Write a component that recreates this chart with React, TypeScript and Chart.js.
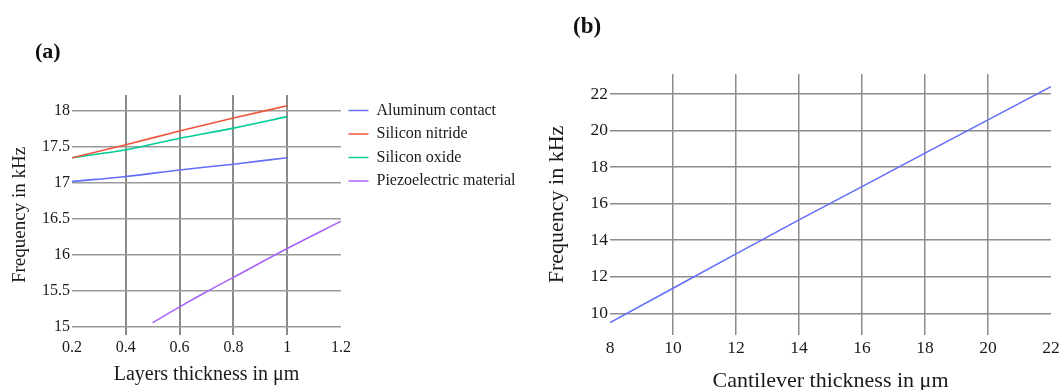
import React, { useEffect, useRef } from "react";
import { Chart, registerables } from "chart.js";

Chart.register(...registerables);

// ---------- Data: panel (a) ----------
const xTicksA = [0.2, 0.4, 0.6, 0.8, 1, 1.2];
const xTickLabelsA = ["0.2", "0.4", "0.6", "0.8", "1", "1.2"];
const yTicksA = [15, 15.5, 16, 16.5, 17, 17.5, 18];
const yTickLabelsA = ["15", "15.5", "16", "16.5", "17", "17.5", "18"];

const layerThickness = [0.2, 0.4, 0.6, 0.8, 1];
const aluminumContact = [17.02, 17.09, 17.18, 17.26, 17.35];
const siliconNitride = [17.35, 17.53, 17.72, 17.9, 18.07];
const siliconOxide = [17.35, 17.46, 17.62, 17.76, 17.92];
const piezoThickness = [0.5, 0.6, 0.7, 0.8, 1, 1.2];
const piezoMaterial = [15.06, 15.28, 15.49, 15.69, 16.09, 16.47];

const seriesNamesA = [
  "Aluminum contact",
  "Silicon nitride",
  "Silicon oxide",
  "Piezoelectric material",
];
const seriesColorsA = ["#636EFA", "#EF553B", "#00CC96", "#AB63FA"];

// ---------- Data: panel (b) ----------
const xTicksB = [8, 10, 12, 14, 16, 18, 20, 22];
const xTickLabelsB = ["8", "10", "12", "14", "16", "18", "20", "22"];
const yTicksB = [10, 12, 14, 16, 18, 20, 22];
const yTickLabelsB = ["10", "12", "14", "16", "18", "20", "22"];

const cantileverThickness = [8, 10, 12, 14, 16, 18, 20, 22];
const cantileverFrequency = [9.49, 11.37, 13.25, 15.11, 16.93, 18.76, 20.58, 22.4];

const FONT = "'Liberation Serif', 'Times New Roman', serif";
const TEXT = "#1a1a1a";

const pts = (xs: number[], ys: number[]) => xs.map((x, i) => ({ x, y: ys[i] }));

const fixLegendWidth = (w: number) => ({
  id: "fixLegendWidth",
  beforeInit(chart: any) {
    const lg = chart.legend;
    if (!lg) return;
    const orig = lg.fit.bind(lg);
    lg.fit = function () {
      orig();
      this.width = w;
    };
  },
});

function PanelA() {
  const ref = useRef<HTMLCanvasElement | null>(null);
  useEffect(() => {
    if (!ref.current) return;
    const seriesX = [layerThickness, layerThickness, layerThickness, piezoThickness];
    const seriesY = [aluminumContact, siliconNitride, siliconOxide, piezoMaterial];
    const chart = new Chart(ref.current, {
      type: "line",
      data: {
        datasets: seriesNamesA.map((name, i) => ({
          label: name,
          data: pts(seriesX[i], seriesY[i]),
          borderColor: seriesColorsA[i],
          backgroundColor: seriesColorsA[i],
          borderWidth: 1.6,
          pointRadius: 0,
          tension: 0.3,
          cubicInterpolationMode: "monotone" as const,
        })),
      },
      options: {
        responsive: false,
        animation: false,
        layout: { padding: { top: 95, left: 0, right: 0, bottom: 0 } },
        plugins: {
          tooltip: { enabled: false },
          legend: {
            position: "right",
            align: "start",
            labels: {
              font: { family: FONT, size: 16 },
              color: TEXT,
              boxWidth: 20,
              boxHeight: 0,
              padding: 7.5,
            },
          },
        },
        scales: {
          x: {
            type: "linear",
            min: 0.2,
            max: 1.2,
            afterBuildTicks: (s: any) => {
              s.ticks = xTicksA.map((v) => ({ value: v }));
            },
            afterFit: (s: any) => {
              s.height = 55;
            },
            ticks: {
              font: { family: FONT, size: 16 },
              color: TEXT,
              padding: 3,
              maxRotation: 0,
              callback: (_v: any, i: number) => xTickLabelsA[i],
            },
            grid: {
              drawTicks: false,
              lineWidth: 2,
              color: (c: any) =>
                c.index === 0 || c.index === xTicksA.length - 1 ? "rgba(0,0,0,0)" : "#8a8a8a",
            },
            border: { display: false },
            title: {
              display: true,
              text: "Layers thickness in μm",
              font: { family: FONT, size: 20 },
              color: TEXT,
              padding: { top: 0, bottom: 3 },
            },
          },
          y: {
            type: "linear",
            min: 14.89,
            max: 18.22,
            afterBuildTicks: (s: any) => {
              s.ticks = yTicksA.map((v) => ({ value: v }));
            },
            afterFit: (s: any) => {
              s.width = 72;
            },
            ticks: {
              font: { family: FONT, size: 16 },
              color: TEXT,
              padding: 2,
              callback: (_v: any, i: number) => yTickLabelsA[i],
            },
            grid: { drawTicks: false, lineWidth: 1.5, color: "#9a9a9a" },
            border: { display: false },
            title: {
              display: true,
              text: "Frequency in kHz",
              font: { family: FONT, size: 19 },
              color: TEXT,
              padding: { top: 9, bottom: 0 },
            },
          },
        },
      },
      plugins: [fixLegendWidth(199)],
    } as any);
    return () => chart.destroy();
  }, []);
  return (
    <canvas
      ref={ref}
      width={540}
      height={390}
      style={{ position: "absolute", left: 0, top: 0, width: 540, height: 390 }}
    />
  );
}

function PanelB() {
  const ref = useRef<HTMLCanvasElement | null>(null);
  useEffect(() => {
    if (!ref.current) return;
    const chart = new Chart(ref.current, {
      type: "line",
      data: {
        datasets: [
          {
            label: "Frequency",
            data: pts(cantileverThickness, cantileverFrequency),
            borderColor: "#636EFA",
            backgroundColor: "#636EFA",
            borderWidth: 1.6,
            pointRadius: 0,
            tension: 0,
          },
        ],
      },
      options: {
        responsive: false,
        animation: false,
        layout: { padding: { top: 74, left: 0, right: 13, bottom: 0 } },
        plugins: { legend: { display: false }, tooltip: { enabled: false } },
        scales: {
          x: {
            type: "linear",
            min: 8,
            max: 22,
            afterBuildTicks: (s: any) => {
              s.ticks = xTicksB.map((v) => ({ value: v }));
            },
            afterFit: (s: any) => {
              s.height = 65;
            },
            ticks: {
              font: { family: FONT, size: 17.5 },
              color: TEXT,
              padding: 2.5,
              maxRotation: 0,
              callback: (_v: any, i: number) => xTickLabelsB[i],
            },
            grid: {
              drawTicks: false,
              lineWidth: 1.5,
              color: (c: any) =>
                c.index === 0 || c.index === xTicksB.length - 1 ? "rgba(0,0,0,0)" : "#8c8c8c",
            },
            border: { display: false },
            title: {
              display: true,
              text: "Cantilever thickness in μm",
              font: { family: FONT, size: 22 },
              color: TEXT,
              padding: { top: 0, bottom: 6 },
            },
          },
          y: {
            type: "linear",
            min: 8.81,
            max: 23.09,
            afterBuildTicks: (s: any) => {
              s.ticks = yTicksB.map((v) => ({ value: v }));
            },
            afterFit: (s: any) => {
              s.width = 70;
            },
            ticks: {
              font: { family: FONT, size: 17.5 },
              color: TEXT,
              padding: 2,
              callback: (_v: any, i: number) => yTickLabelsB[i],
            },
            grid: { drawTicks: false, lineWidth: 1.5, color: "#8c8c8c" },
            border: { display: false },
            title: {
              display: true,
              text: "Frequency in kHz",
              font: { family: FONT, size: 22 },
              color: TEXT,
              padding: { top: 4, bottom: 0 },
            },
          },
        },
      },
    } as any);
    return () => chart.destroy();
  }, []);
  return (
    <canvas
      ref={ref}
      width={524}
      height={400}
      style={{ position: "absolute", left: 540, top: 0, width: 524, height: 400 }}
    />
  );
}

const labelStyle: React.CSSProperties = {
  position: "absolute",
  fontFamily: FONT,
  fontWeight: "bold",
  lineHeight: 1,
  color: "#111",
  whiteSpace: "nowrap",
};

export default function App() {
  return (
    <div
      style={{
        position: "fixed",
        left: 0,
        top: 0,
        width: 1064,
        height: 390,
        overflow: "hidden",
        background: "#fff",
      }}
    >
      <PanelA />
      <PanelB />
      <div style={{ ...labelStyle, fontSize: 22, left: 35, top: 40 }}>(a)</div>
      <div style={{ ...labelStyle, fontSize: 23, left: 573, top: 14 }}>(b)</div>
    </div>
  );
}
